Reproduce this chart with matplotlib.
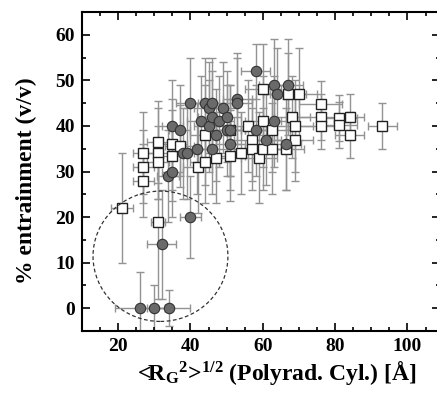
import matplotlib
matplotlib.use("Agg")
import matplotlib.pyplot as plt
from matplotlib.patches import Ellipse
from matplotlib.ticker import MultipleLocator

plt.rcParams['font.family'] = ['Liberation Serif', 'DejaVu Serif']
plt.rcParams['font.weight'] = 'bold'
plt.rcParams['mathtext.fontset'] = 'custom'
plt.rcParams['mathtext.bf'] = 'Liberation Serif:bold'
plt.rcParams['mathtext.rm'] = 'Liberation Serif:bold'
plt.rcParams['mathtext.it'] = 'Liberation Serif:bold'
plt.rcParams['mathtext.default'] = 'bf'

# Open squares
sq_x = [21, 27, 27, 27, 31, 31, 31, 31, 35, 35, 37, 42, 44, 44, 47, 51, 51, 54, 56, 57, 57, 59,
        60, 60, 60, 62.5, 62.5, 66.5, 67, 68, 69, 69, 70, 76, 76, 76, 81, 81, 84, 84, 93]
sq_y = [22, 34, 31, 28, 36.5, 34, 32, 19, 36, 33.5, 35.5, 31, 38, 32, 33, 33.5, 39, 34, 40, 37, 35, 33,
        48, 41, 35, 35, 39, 35, 47, 42, 40, 37, 47, 44.8, 42, 40, 41.8, 40.2, 42, 38, 40]
sq_xerr = [3, 3, 3, 3, 3, 3, 3, 2, 4, 4, 4, 4, 4, 4, 4, 4, 4, 4, 5, 5, 5, 5,
           5, 5, 5, 5, 5, 5, 5, 5, 5, 5, 5, 6, 6, 6, 5, 5, 4, 4, 4]
sq_yerr = [12, 9, 8, 8, 9, 10, 8, 17, 10, 10, 9, 10, 11, 9, 10, 10, 10, 9, 10, 9, 9, 10,
           10, 10, 9, 10, 9, 9, 9, 9, 10, 9, 10, 5, 5, 5, 5, 5, 5, 5, 5]

# Filled circles
ci_x = [26, 30, 34, 32, 40, 33.8, 35, 35, 37, 38, 39, 40, 41.7, 43, 44, 45, 45, 46, 46, 46, 47, 48,
        49, 50, 50, 51, 51, 53, 53, 58, 58, 61, 63, 63, 64, 67, 66.5]
ci_y = [0, 0, 0, 14, 20, 29, 30, 40, 39, 34, 34, 45, 35, 41, 45, 44, 40, 45, 42, 35, 38, 41,
        44, 42, 39, 39, 36, 46, 45, 52, 39, 37, 49, 41, 47, 49, 36]
ci_xerr = [7, 3, 6, 4, 3, 3, 3, 3, 3, 3, 3, 4, 4, 4, 4, 4, 4, 4, 4, 4, 4, 4,
           4, 4, 4, 4, 4, 4, 4, 4, 4, 4, 4, 4, 4, 4, 4]
ci_yerr = [8, 5, 4, 12, 9, 10, 10, 10, 10, 10, 10, 10, 10, 10, 10, 10, 10, 10, 10, 10, 10, 10,
           10, 10, 10, 10, 10, 10, 10, 6, 10, 10, 10, 10, 10, 10, 10]

fig = plt.figure(figsize=(4.37, 3.96), dpi=100)
ax = fig.add_axes([82 / 437, 1 - 331 / 396, (440 - 82) / 437, (331 - 12) / 396])

ecol = '#939393'
ax.errorbar(sq_x, sq_y, xerr=sq_xerr, yerr=sq_yerr, fmt='none', ecolor=ecol,
            elinewidth=1.0, capsize=3, capthick=1.0, zorder=1)
ax.errorbar(ci_x, ci_y, xerr=ci_xerr, yerr=ci_yerr, fmt='none', ecolor=ecol,
            elinewidth=1.0, capsize=3, capthick=1.0, zorder=1)
ax.plot(sq_x, sq_y, 's', ms=6.5, mfc='white', mec='#222222', mew=1.0, zorder=3)
ax.plot(ci_x, ci_y, 'o', ms=7.5, mfc='#6a6a6a', mec='#333333', mew=0.8, zorder=4)

ax.add_patch(Ellipse((31.7, 11.4), 37.3, 28.6, fill=False, ls=(0, (3, 2)),
                     ec='#333333', lw=0.9, zorder=5))

ax.set_xlim(10, 109)
ax.set_ylim(-5, 65)
ax.xaxis.set_major_locator(MultipleLocator(20))
ax.xaxis.set_minor_locator(MultipleLocator(5))
ax.yaxis.set_major_locator(MultipleLocator(10))
ax.yaxis.set_minor_locator(MultipleLocator(5))
ax.tick_params(which='both', direction='in', top=True, right=True, width=1.2)
ax.tick_params(which='major', length=6, labelsize=14, pad=5)
ax.tick_params(which='minor', length=3)
for s in ax.spines.values():
    s.set_linewidth(1.5)
for lab in ax.get_xticklabels() + ax.get_yticklabels():
    lab.set_fontweight('bold')

fig.text(26 / 437, 1 - 181 / 396, '% entrainment (v/v)', rotation=90, ha='center', va='center',
         fontsize=17, fontweight='bold')
fig.text(277 / 437, 1 - 373 / 396, r'<R$_{G}$$^{2}$>$^{1/2}$ (Polyrad. Cyl.) [Å]', ha='center',
         va='center', fontsize=17, fontweight='bold')

fig.savefig('out.png', dpi=100)
